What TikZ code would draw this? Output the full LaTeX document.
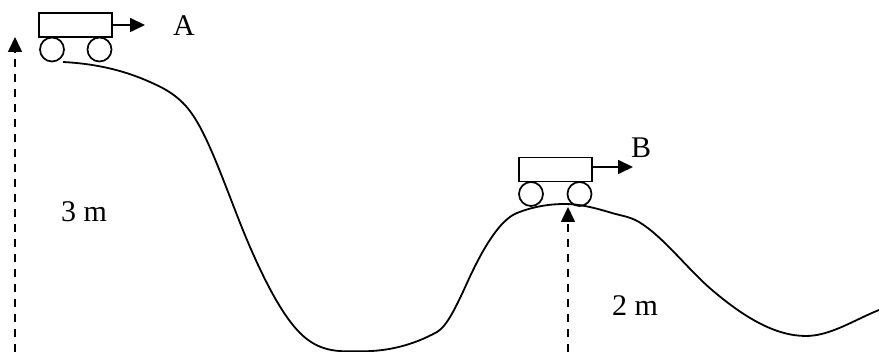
\documentclass[tikz,border=0pt]{standalone}
\usepackage{fontspec}
\setmainfont{Liberation Serif}
\usetikzlibrary{arrows.meta}
\tikzset{
  body/.style={draw, line width=1.7pt, rectangle, minimum width=73pt, minimum height=24pt, inner sep=0pt},
  wheel/.style={draw, line width=1.7pt, circle, minimum size=24pt, inner sep=0pt},
  push/.style={line width=1.7pt, -{Triangle[length=15pt,width=14pt]}},
  height/.style={line width=1.6pt, dash pattern=on 8pt off 7pt, -{Triangle[length=15pt,width=14pt]}},
  track/.style={line width=1.8pt},
  lbl/.style={font=\fontsize{30}{34}\selectfont, inner sep=0pt}
}
\begin{document}
\begin{tikzpicture}[x=1pt,y=-1pt]
\useasboundingbox (0,0) rectangle (879,352);
% cart A
\node[body] (cartA) at (75.5,25) {};
\node[wheel] (wA1) at (52,49.5) {};
\node[wheel] (wA2) at (99.5,49.5) {};
\coordinate (pA) at (145,25);
\draw[push] (cartA.east) -- (pA);
\node[lbl] (A) at (184,26) {A};
% cart B
\node[body] (cartB) at (555.5,169.5) {};
\node[wheel] (wB1) at (531,194) {};
\node[wheel] (wB2) at (579.5,194) {};
\coordinate (pB) at (633,167);
\draw[push] ([yshift=2.5pt]cartB.east) -- (pB);
\node[lbl] (B) at (641,148) {B};
% track
\draw[track] (63,62)
  .. controls (92,63.5) and (121,69) .. (150,82)
  .. controls (161,86.95) and (172,92) .. (183,103)
  .. controls (188.67,108.67) and (194.33,116.5) .. (200,127)
  .. controls (216.7,157.8) and (233.3,208.6) .. (250,247)
  .. controls (266.7,285.3) and (283.3,316.3) .. (300,333)
  .. controls (320.7,353.7) and (341.3,351.3) .. (362,351.3)
  .. controls (387,351.3) and (412,345.75) .. (437,332)
  .. controls (447,326.5) and (457,305) .. (467,283)
  .. controls (483.7,246.3) and (500.3,219.7) .. (517,213)
  .. controls (533,206.6) and (549,204) .. (565,204)
  .. controls (580.7,204) and (596.3,208.3) .. (612,213)
  .. controls (621,215.7) and (630,216.6) .. (639,222)
  .. controls (663.3,236.6) and (687.7,269.3) .. (712,290)
  .. controls (743.3,316.6) and (774.7,336) .. (806,336)
  .. controls (830.3,336) and (854.7,319.7) .. (879,310);
% heights
\coordinate (h3b) at (15,352);
\coordinate (h3t) at (15,37);
\draw[height] (h3b) -- (h3t);
\node[lbl] (h3) at (84,212) {3 m};
\coordinate (h2b) at (568,352);
\coordinate (h2t) at (568,207);
\draw[height] (h2b) -- (h2t);
\node[lbl] (h2) at (635,306) {2 m};
\end{tikzpicture}
\end{document}
